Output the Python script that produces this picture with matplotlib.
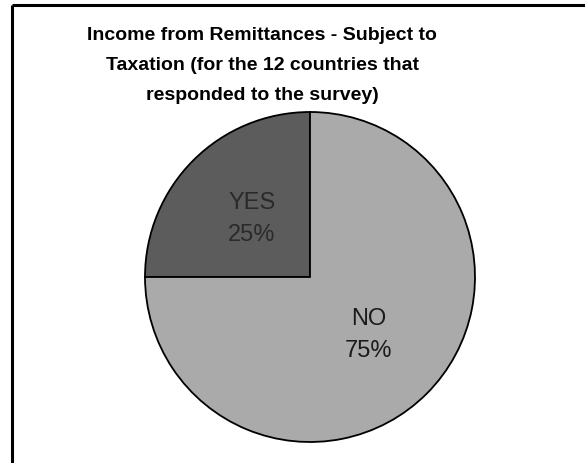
import matplotlib
matplotlib.use("Agg")
import matplotlib.pyplot as plt

categories = ["YES", "NO"]
shares = [25, 75]
colors = ["#5c5c5c", "#aaaaaa"]
label_colors = ["#2a2a2a", "#1a1a1a"]

W, H = 585, 463
fig = plt.figure(figsize=(W / 100, H / 100), dpi=100)
ax = fig.add_axes([0, 0, 1, 1])

# outer frame (only left and top edges visible in the crop)
ax.plot([12, 12], [0, H - 5], color="black", lw=2.2, solid_capstyle="butt")
ax.plot([12, W], [H - 5, H - 5], color="black", lw=2.2, solid_capstyle="butt")

labels = [f"{c}\n{v}%" for c, v in zip(categories, shares)]
wedges, texts = ax.pie(shares, labels=labels, colors=colors, startangle=90,
                       counterclock=True, center=(310, H - 277), radius=165,
                       labeldistance=0.5, frame=True,
                       wedgeprops=dict(edgecolor="black", linewidth=1.3),
                       textprops=dict(ha="center", va="center", fontsize=17,
                                      family="Liberation Sans", linespacing=1.6))
for t, c in zip(texts, label_colors):
    t.set_color(c)
ax.set_xlim(0, W)
ax.set_ylim(0, H)
ax.set_aspect("equal")
ax.axis("off")

ax.text(262, H - 66, "Income from Remittances - Subject to\nTaxation (for the 12 countries that\nresponded to the survey)",
        ha="center", va="center", fontsize=14, fontweight="bold",
        family="Liberation Sans", linespacing=2.0)

fig.savefig("out.png", dpi=100)
